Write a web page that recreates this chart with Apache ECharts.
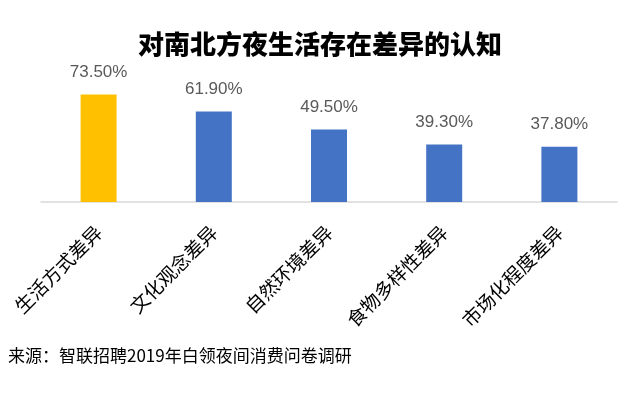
<!DOCTYPE html>
<html>
<head>
<meta charset="utf-8">
<script src="https://cdn.jsdelivr.net/npm/echarts@6/dist/echarts.min.js"></script>
<style>html,body{margin:0;padding:0;background:#fff;}#c{width:640px;height:393px;}</style>
</head>
<body>
<div id="c"></div>
<script>
const categories = ['生活方式差异', '文化观念差异', '自然环境差异', '食物多样性差异', '市场化程度差异'];
const values = [73.5, 61.9, 49.5, 39.3, 37.8];
const barColors = ['#FFC000', '#4472C4', '#4472C4', '#4472C4', '#4472C4'];
const titleText = '对南北方夜生活存在差异的认知';
const sourceText = '来源：智联招聘2019年白领夜间消费问卷调研';

const chart = echarts.init(document.getElementById('c'));
chart.setOption({
  animation: false,
  backgroundColor: '#fff',
  title: {
    text: titleText,
    left: 'center',
    top: 26,
    textStyle: { fontSize: 26, fontWeight: 900, color: '#000', fontFamily: 'Noto Sans CJK SC' }
  },
  graphic: [{
    type: 'text',
    left: 8,
    top: 347,
    style: { text: sourceText, fontSize: 17, fill: '#000', fontFamily: 'Noto Sans CJK SC' }
  }],
  grid: { left: 41, right: 23, top: 85, bottom: 191, containLabel: false },
  xAxis: {
    type: 'category',
    data: categories,
    axisLine: { lineStyle: { color: '#D9D9D9', width: 1.5 } },
    axisTick: { show: false },
    axisLabel: { rotate: 45, margin: 27, fontSize: 19, color: '#000', fontFamily: 'Noto Sans CJK SC', interval: 0 }
  },
  yAxis: { type: 'value', min: 0, max: 80, show: false, splitLine: { show: false } },
  series: [{
    type: 'bar',
    data: values.map((v, i) => ({ value: v, itemStyle: { color: barColors[i] } })),
    barWidth: 36,
    label: {
      show: true,
      position: 'top',
      distance: 14,
      formatter: p => p.value.toFixed(2) + '%',
      fontSize: 17,
      color: '#595959',
      fontFamily: 'Liberation Sans Narrow, Liberation Sans, sans-serif'
    }
  }]
});
</script>
</body>
</html>
